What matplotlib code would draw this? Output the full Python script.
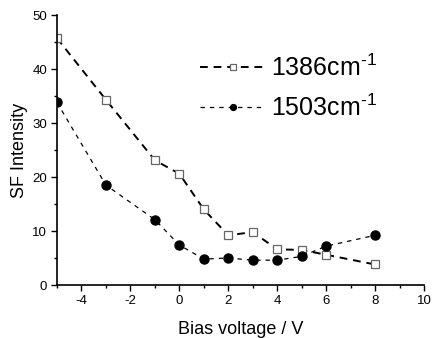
import matplotlib
matplotlib.use("Agg")
import matplotlib.pyplot as plt
from matplotlib.ticker import MultipleLocator

plt.rcParams['font.family'] = ['Liberation Sans', 'DejaVu Sans']
plt.rcParams['axes.unicode_minus'] = False
plt.rcParams['mathtext.fontset'] = 'custom'
plt.rcParams['mathtext.rm'] = 'Liberation Sans'

bias = [-5, -3, -1, 0, 1, 2, 3, 4, 5, 6, 8]
sf_1386 = [45.7, 34.3, 23.1, 20.6, 14.0, 9.2, 9.8, 6.6, 6.5, 5.6, 3.8]
sf_1503 = [33.8, 18.5, 12.1, 7.4, 4.8, 5.0, 4.6, 4.6, 5.3, 7.2, 9.2]

fig = plt.figure(figsize=(4.32, 3.38), dpi=100)
ax = fig.add_axes([57/432, 1 - 285/338, (424-57)/432, (285-15)/338])

ax.plot(bias, sf_1386, linestyle=(0, (4, 3)), color='black', lw=1.4,
        marker='s', ms=6, mfc='white', mec='#666666', mew=0.9,
        label=r'1386cm$^{\text{-1}}$')
ax.plot(bias, sf_1503, linestyle=(0, (3.5, 4)), color='black', lw=0.9,
        marker='o', ms=6.5, mfc='black', mec='black',
        label=r'1503cm$^{\text{-1}}$')

ax.set_xlim(-5, 10)
ax.set_ylim(0, 50)
ax.xaxis.set_major_locator(MultipleLocator(2))
ax.xaxis.set_minor_locator(MultipleLocator(1))
ax.yaxis.set_major_locator(MultipleLocator(10))
ax.yaxis.set_minor_locator(MultipleLocator(5))
ax.tick_params(which='major', direction='out', length=4, width=1, labelsize=9.5, pad=3)
ax.tick_params(which='minor', direction='out', length=2.5, width=1)
for s in ('top', 'right'):
    ax.spines[s].set_visible(False)
for s in ('left', 'bottom'):
    ax.spines[s].set_linewidth(1.2)

ax.set_xlabel('Bias voltage / V', fontsize=13, labelpad=10)
ax.set_ylabel('SF Intensity', fontsize=13, labelpad=3)

leg = ax.legend(loc='upper left', bbox_to_anchor=(0.39, 0.855), frameon=False,
                fontsize=18, handlelength=2.6, handletextpad=0.25,
                labelspacing=0.55, borderaxespad=0, borderpad=0,
                markerscale=0.65)

fig.savefig('out.png', dpi=100)
